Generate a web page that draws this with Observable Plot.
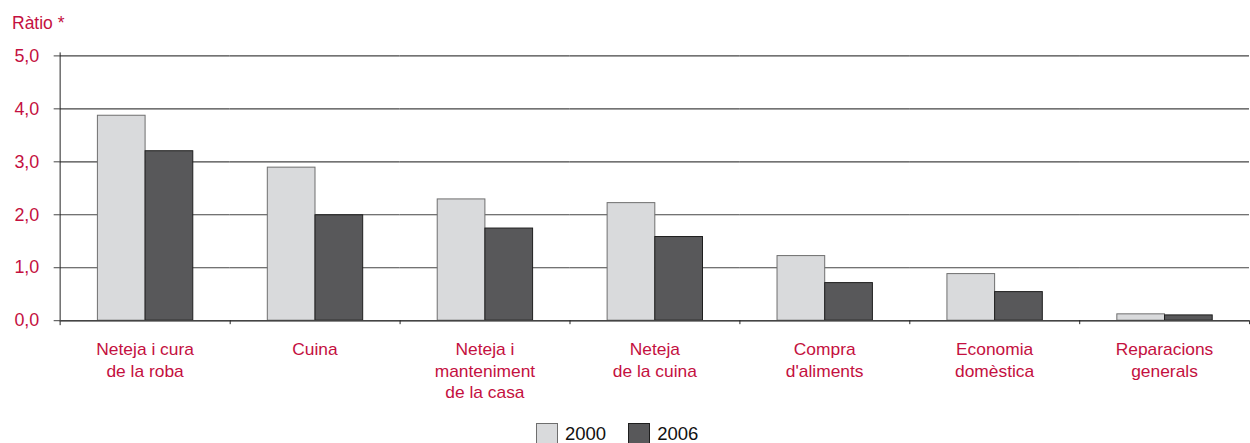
<!DOCTYPE html>
<html>
<head>
<meta charset="utf-8">
<script src="https://cdn.jsdelivr.net/npm/d3@7"></script>
<script src="https://cdn.jsdelivr.net/npm/@observablehq/plot@0.6"></script>
<style>
  html, body { margin: 0; padding: 0; background: #fff; overflow: hidden; width: 1250px; height: 443px; }
  body { font-family: "Liberation Sans", Arial, sans-serif; }
  #title { color: #c41040; font-size: 17.5px; height: 40px; line-height: 17px; padding: 15px 0 0 12px; box-sizing: border-box; }
  #legend { display: flex; align-items: center; gap: 0; font-size: 18.5px; color: #111; padding-left: 536px; margin-top: 4px; }
  .sw { width: 22px; height: 22px; box-sizing: border-box; border: 1px solid #222; display: inline-block; margin-right: 7px; }
  .it { display: flex; align-items: center; margin-right: 22px; }
  #chart svg { display: block; }
</style>
</head>
<body>
<div id="title">Ràtio *</div>
<div id="chart"></div>
<div id="legend"></div>
<script>
const categories = [
  "Neteja i cura\nde la roba",
  "Cuina",
  "Neteja i\nmanteniment\nde la casa",
  "Neteja\nde la cuina",
  "Compra\nd'aliments",
  "Economia\ndomèstica",
  "Reparacions\ngenerals"
];
const years = ["2000", "2006"];
const values2000 = [3.87, 2.89, 2.29, 2.22, 1.22, 0.88, 0.12];
const values2006 = [3.20, 1.99, 1.74, 1.58, 0.71, 0.54, 0.10];
const yTicks = [0, 1, 2, 3, 4, 5];
const colors = ["#d9dadc", "#58585a"];
const strokes = ["#6e6e6e", "#1e1e1e"];
const textColor = "#c41040";

const data = [];
categories.forEach((c, i) => {
  data.push({cat: c, year: years[0], value: values2000[i]});
  data.push({cat: c, year: years[1], value: values2006[i]});
});

const W = 1258, mL = 59, mR = 0;
const step = (W - mL - mR) / categories.length;

const chart = Plot.plot({
  width: W,
  height: 381,
  marginLeft: mL,
  marginRight: mR,
  marginTop: 15.5,
  marginBottom: 99,
  style: {fontFamily: "'Liberation Sans', Arial, sans-serif", fontSize: "17.5px", background: "#fff"},
  fx: {domain: categories, padding: 0, label: null},
  x: {domain: years, paddingInner: 0, paddingOuter: 0.745, axis: null},
  y: {domain: [0, 5], label: null},
  color: {domain: years, range: colors},
  marks: [
    Plot.gridY(yTicks, {stroke: "#444", strokeOpacity: 1, strokeWidth: 1.2}),
    Plot.axisY(yTicks, {tickSize: 6, tickPadding: 15, stroke: "#444", fill: textColor, tickFormat: d => d.toFixed(1).replace(".", ","), label: null, fontSize: 18}),
    Plot.frame({anchor: "left", facetAnchor: "left", stroke: "#222", insetTop: -3, insetBottom: -4}),
    Plot.barY(data, {fx: "cat", x: "year", y: "value", fill: "year", stroke: "year", strokeWidth: 1}),
    Plot.ruleY([0], {stroke: "#444", strokeWidth: 1.5}),
    Plot.axisFx({anchor: "bottom", tickSize: 0, tickPadding: 19, fill: textColor, lineHeight: 1.25, fontSize: 17.5, label: null}),
    Plot.axisFx({anchor: "bottom", tickSize: 4, dx: step / 2, tickFormat: () => "", stroke: "#222", label: null})
  ]
});
chart.querySelectorAll("g[aria-label='bar'] rect").forEach(r => {
  const f = r.getAttribute("fill");
  const idx = colors.indexOf(f);
  if (idx >= 0) r.setAttribute("stroke", strokes[idx]);
});
document.getElementById("chart").appendChild(chart);

const legend = document.getElementById("legend");
years.forEach((y, i) => {
  const it = document.createElement("div");
  it.className = "it";
  const sw = document.createElement("span");
  sw.className = "sw";
  sw.style.background = colors[i];
  sw.style.borderColor = strokes[i];
  it.appendChild(sw);
  it.appendChild(document.createTextNode(y));
  legend.appendChild(it);
});
</script>
</body>
</html>
